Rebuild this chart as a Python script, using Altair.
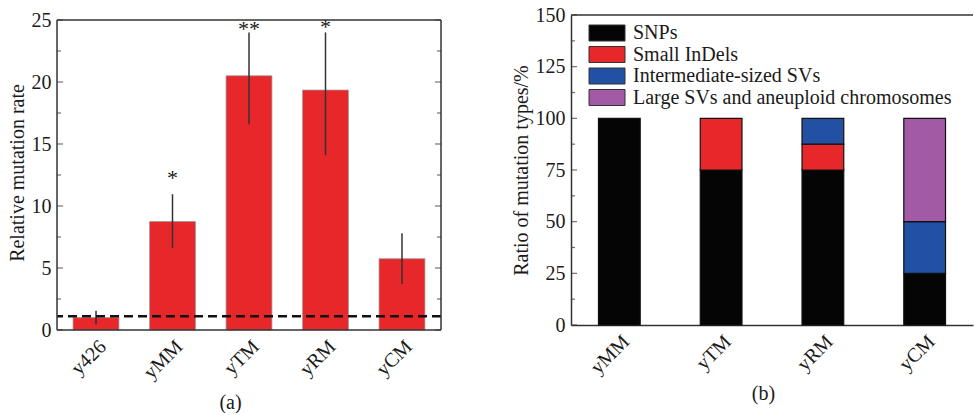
import altair as alt
import pandas as pd

# ---------------- data ----------------
groups_a = ["y426", "yMM", "yTM", "yRM", "yCM"]
rate = [1.0, 8.75, 20.5, 19.35, 5.75]
err_lo = [0.45, 6.6, 16.6, 14.1, 3.7]
err_hi = [1.55, 10.95, 24.0, 24.0, 7.8]
star_text = ["", "*", "**", "*", ""]
star_y = [0.0, 12.4, 24.4, 24.6, 0.0]
baseline_rate = [1.1]
ticks_a_major = [0, 5, 10, 15, 20, 25]
ticks_a_minor = [2.5, 7.5, 12.5, 17.5, 22.5]

groups_b = ["yMM", "yTM", "yRM", "yCM"]
types = ["SNPs", "Small InDels", "Intermediate-sized SVs", "Large SVs and aneuploid chromosomes"]
snps = [100, 75, 75, 25]
indels = [0, 25, 12.5, 0]
inter = [0, 0, 12.5, 25]
large = [0, 0, 0, 50]
type_colors = ["#050505", "#E8272A", "#2251A3", "#A259A6"]
ticks_b_major = [0, 25, 50, 75, 100, 125, 150]
ticks_b_minor = [12.5, 37.5, 62.5, 87.5, 112.5, 137.5]

FONT = "Liberation Serif"
TXT = "#1a1a1a"
FRAME = "#333333"
WA, HA = 384, 315          # panel (a) view; its frame starts 5px below the view top
WB, HB = 402, 310
A_TOP = 25 * HA / (HA - 5)  # domain top so that 25 sits 5px below the view top

# ---------------- panel (a) ----------------
df_a = pd.DataFrame({"g": groups_a, "rate": rate, "lo": err_lo, "hi": err_hi,
                     "star": star_text, "sy": star_y})
df_base = pd.DataFrame({"b": baseline_rate})
df_ta_major = pd.DataFrame({"v": ticks_a_major})
df_ta_minor = pd.DataFrame({"v": ticks_a_minor})

xa = alt.X("g:N", sort=groups_a,
           scale=alt.Scale(domain=groups_a, paddingInner=0.4, paddingOuter=0.21),
           axis=alt.Axis(title="(a)", labelAngle=-45, labelFontSize=20, labelFont=FONT,
                         labelColor=TXT, titleFont=FONT, titleFontSize=20, titleFontWeight="normal",
                         titleColor=TXT, ticks=False, domain=False, labelPadding=6,
                         titlePadding=10, titleX=173))
ya_scale = alt.Scale(domain=[0, A_TOP], nice=False, zero=True)
ya_axis = alt.Axis(title="Relative mutation rate", values=ticks_a_major, labelFontSize=20,
                   labelFont=FONT, labelColor=TXT, titleFont=FONT, titleFontSize=20,
                   titleFontWeight="normal", titleColor=TXT, ticks=False, domain=False,
                   grid=False, labelPadding=6, titlePadding=4)

bars_a = alt.Chart(df_a).mark_bar(color="#E8272A", stroke="#9a9a9a", strokeWidth=0.8).encode(
    x=xa, y=alt.Y("rate:Q", scale=ya_scale, axis=ya_axis))
err_a = alt.Chart(df_a).mark_rule(color="#333333", strokeWidth=1.5).encode(
    x=alt.X("g:N", sort=groups_a), y=alt.Y("lo:Q", scale=ya_scale, axis=ya_axis), y2="hi:Q")
stars_a = alt.Chart(df_a).mark_text(font=FONT, fontSize=22, color=TXT, dy=2).encode(
    x=alt.X("g:N", sort=groups_a), y=alt.Y("sy:Q", scale=ya_scale, axis=ya_axis), text="star:N")
dash_a = alt.Chart(df_base).mark_rule(color="#111111", strokeWidth=2.5, strokeDash=[9, 5]).encode(
    y=alt.Y("b:Q", scale=ya_scale, axis=ya_axis))

# frame of panel (a)
frame_a_h = alt.Chart(pd.DataFrame({"v": [0, 25]})).mark_rule(color=FRAME, strokeWidth=1.5).encode(
    y=alt.Y("v:Q", scale=ya_scale, axis=ya_axis))
frame_a_l = alt.Chart(pd.DataFrame({"v": [0], "v2": [25]})).mark_rule(color=FRAME, strokeWidth=1.5).encode(
    x=alt.value(0), y=alt.Y("v:Q", scale=ya_scale, axis=ya_axis), y2="v2:Q")
frame_a_r = alt.Chart(pd.DataFrame({"v": [0], "v2": [25]})).mark_rule(color=FRAME, strokeWidth=1.5).encode(
    x=alt.value(WA), y=alt.Y("v:Q", scale=ya_scale, axis=ya_axis), y2="v2:Q")


def inner_ticks(df, scale, axis, width, size):
    left = alt.Chart(df).mark_tick(orient="horizontal", size=size, thickness=1.2, color=FRAME).encode(
        y=alt.Y("v:Q", scale=scale, axis=axis), x=alt.value(size / 2))
    right = alt.Chart(df).mark_tick(orient="horizontal", size=size, thickness=1.2, color=FRAME).encode(
        y=alt.Y("v:Q", scale=scale, axis=axis), x=alt.value(width - size / 2))
    return [left, right]


ticks_a = (inner_ticks(df_ta_major, ya_scale, ya_axis, WA, 6)
           + inner_ticks(df_ta_minor, ya_scale, ya_axis, WA, 4))

panel_a = alt.layer(bars_a, err_a, stars_a, dash_a, frame_a_h, frame_a_l, frame_a_r, *ticks_a).properties(
    width=WA, height=HA, view=alt.ViewBackground(stroke=None))

# ---------------- panel (b) ----------------
rows = []
for i, g in enumerate(groups_b):
    for k, (t, vals) in enumerate(zip(types, [snps, indels, inter, large])):
        rows.append({"g": g, "type": t, "val": vals[i], "ord": k})
df_b = pd.DataFrame(rows)
df_b = df_b[df_b["val"] > 0]
df_tb_major = pd.DataFrame({"v": ticks_b_major})
df_tb_minor = pd.DataFrame({"v": ticks_b_minor})

yb_scale = alt.Scale(domain=[0, 150], nice=False)
yb_axis = alt.Axis(title="Ratio of mutation types/%", values=ticks_b_major, labelFontSize=20,
                   labelFont=FONT, labelColor=TXT, titleFont=FONT, titleFontSize=20,
                   titleFontWeight="normal", titleColor=TXT, ticks=False, domain=True,
                   domainColor=FRAME, domainWidth=1.5,
                   grid=False, labelPadding=6, titlePadding=4)
xb = alt.X("g:N", sort=groups_b,
           scale=alt.Scale(domain=groups_b, paddingInner=0.59, paddingOuter=0.27),
           axis=alt.Axis(title="(b)", labelAngle=-45, labelFontSize=20, labelFont=FONT,
                         labelColor=TXT, titleFont=FONT, titleFontSize=20, titleFontWeight="normal",
                         titleColor=TXT, ticks=False, domain=True, domainColor=FRAME,
                         domainWidth=1.5, labelPadding=6, titlePadding=6, titleX=192))

bars_b = alt.Chart(df_b).mark_bar(stroke="#111111", strokeWidth=1.2).encode(
    x=xb,
    y=alt.Y("val:Q", stack="zero", scale=yb_scale, axis=yb_axis),
    color=alt.Color("type:N", sort=types,
                    scale=alt.Scale(domain=types, range=type_colors),
                    legend=alt.Legend(title=None, orient="none", legendX=540, legendY=8,
                                      labelFont=FONT, labelFontSize=20, labelColor=TXT,
                                      symbolType="M-2.25,-1H2.25V1H-2.25Z", symbolSize=256,
                                      symbolStrokeColor="#333333", symbolStrokeWidth=1,
                                      symbolOpacity=1, labelOffset=16, rowPadding=1.5,
                                      padding=0, labelLimit=400)),
    order=alt.Order("ord:Q", sort="ascending"))
top_b = alt.Chart(pd.DataFrame({"v": [150]})).mark_rule(color=FRAME, strokeWidth=1.5).encode(
    y=alt.Y("v:Q", scale=yb_scale, axis=yb_axis))
ticks_b = [inner_ticks(df_tb_major, yb_scale, yb_axis, WB, 6)[0],
           inner_ticks(df_tb_minor, yb_scale, yb_axis, WB, 4)[0]]

panel_b = alt.layer(bars_b, top_b, *ticks_b).properties(
    width=WB, height=HB, view=alt.ViewBackground(stroke=None))

chart = alt.hconcat(panel_a, panel_b, spacing=68).properties(
    padding={"left": 7, "top": 5, "right": 0, "bottom": 0}
).configure(background="white")

chart.save("out.html", embed_options={"renderer": "svg", "actions": False})
